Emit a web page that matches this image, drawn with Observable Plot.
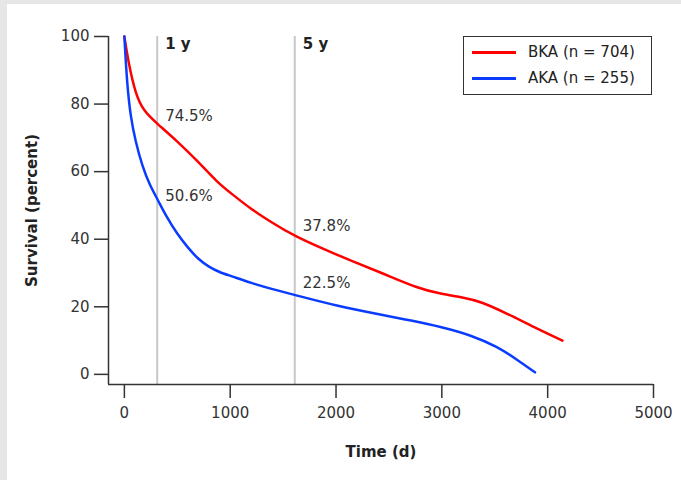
<!DOCTYPE html>
<html><head><meta charset="utf-8">
<script src="https://cdn.jsdelivr.net/npm/d3@7"></script>
<script src="https://cdn.jsdelivr.net/npm/@observablehq/plot@0.6"></script>
<style>
html,body{margin:0;padding:0;background:#e6e6e6;width:681px;height:480px;overflow:hidden;font-family:"DejaVu Sans",Verdana,sans-serif;}
#panel{position:absolute;left:7px;top:4px;width:674px;height:476px;background:#fff;}
#legend{position:absolute;left:456px;top:32px;width:187px;height:57px;border:1.5px solid #333;background:#fff;font-size:15px;color:#222;}
.li{position:absolute;left:8px;height:16px;display:flex;align-items:center;}
.sw{width:44px;height:3px;margin-right:12px;}
</style></head>
<body><div id="panel"></div>
<script>
// Data
const bkaDays = [0, 40, 105, 184, 310, 500, 690, 880, 1000, 1192, 1400, 1600, 1980, 2450, 2770, 2990, 3200, 3365, 3617, 3869, 4140];
const bkaSurv = [100, 92, 83, 77.8, 74.2, 69, 63.2, 56.8, 53.8, 49, 44.8, 41, 35.7, 29.8, 25.5, 23.8, 22.8, 21.6, 18, 14, 10];
const akaDays = [0, 25, 60, 105, 170, 240, 310, 400, 500, 600, 700, 800, 900, 1000, 1200, 1400, 1600, 2000, 2450, 2700, 3000, 3275, 3525, 3713, 3880];
const akaSurv = [100, 86, 76, 69, 61.5, 56, 52, 46.5, 41.5, 37.5, 34, 31.8, 30.2, 29.2, 27, 25.2, 23.6, 20.3, 17.5, 16, 14, 11.6, 8.2, 4.3, 0.6];
const seriesNames = ["BKA (n = 704)", "AKA (n = 255)"];
const seriesColors = ["#ff0000", "#0a3cff"];
const markerDays = [310, 1610];
const markerLabels = ["1 y", "5 y"];
const pctLabels = ["74.5%", "50.6%", "37.8%", "22.5%"];
const pctDays = [310, 310, 1610, 1610];
const pctLabelY = [76.5, 52.8, 44, 27];
const xTicks = [0, 1000, 2000, 3000, 4000, 5000];
const yTicks = [0, 20, 40, 60, 80, 100];

const bka = bkaDays.map((d,i)=>({x:d,y:bkaSurv[i]}));
const aka = akaDays.map((d,i)=>({x:d,y:akaSurv[i]}));
const pct = pctLabels.map((t,i)=>({t,x:pctDays[i],y:pctLabelY[i]}));
const mk = markerDays.map((d,i)=>({x:d,t:markerLabels[i]}));

const chart = Plot.plot({
  width: 674, height: 476,
  marginLeft: 101, marginRight: 28, marginTop: 32, marginBottom: 96,
  style: {fontFamily: '"DejaVu Sans", Verdana, sans-serif', fontSize: "15px", color: "#333", background: "transparent"},
  x: {domain: [-150, 5000]},
  y: {domain: [-3, 100]},
  marks: [
    Plot.ruleX(mk, {x: "x", y1: -3, y2: 100, stroke: "#c8c8c8", strokeWidth: 2}),
    Plot.text(mk, {x: "x", y: 100, text: "t", dx: 8, dy: 8, textAnchor: "start", fontWeight: "bold", fill: "#222", fontSize: 15}),
    Plot.line(bka, {x: "x", y: "y", stroke: seriesColors[0], strokeWidth: 2.5, curve: "basis"}),
    Plot.line(aka, {x: "x", y: "y", stroke: seriesColors[1], strokeWidth: 2.5, curve: "basis"}),
    Plot.text(pct, {x: "x", y: "y", text: "t", dx: 8, textAnchor: "start", fill: "#333", fontSize: 15}),
    Plot.ruleX([-150], {y1: -3, y2: 100, stroke: "#333", strokeWidth: 1.5}),
    Plot.ruleY([-3], {x1: -150, x2: 5000, stroke: "#333", strokeWidth: 1.5}),
    Plot.axisX(xTicks, {anchor: "bottom", tickSize: 14, tickPadding: 9, tickFormat: "d", label: "Time (d)", labelAnchor: "center", labelArrow: "none", labelOffset: 72, stroke: "#333", strokeWidth: 1.5, fill: "#333"}),
    Plot.axisY(yTicks, {anchor: "left", tickSize: 14, tickPadding: 5, tickFormat: "d", label: "Survival (percent)", labelAnchor: "center", labelArrow: "none", labelOffset: 82, stroke: "#333", strokeWidth: 1.5, fill: "#333"})
  ]
});
document.getElementById("panel").appendChild(chart);

// bold axis labels
chart.querySelectorAll('[aria-label="x-axis label"] text, [aria-label="y-axis label"] text').forEach(t=>{t.setAttribute("font-weight","bold");t.setAttribute("fill","#222");});

const lg = document.createElement("div");
lg.id = "legend";
seriesNames.forEach((n,i)=>{
  const r = document.createElement("div");
  r.className = "li"; r.style.top = (i===0 ? 7 : 33) + "px";
  r.innerHTML = `<span class="sw" style="background:${seriesColors[i]}"></span><span>${n}</span>`;
  lg.appendChild(r);
});
document.getElementById("panel").appendChild(lg);
</script></body></html>
